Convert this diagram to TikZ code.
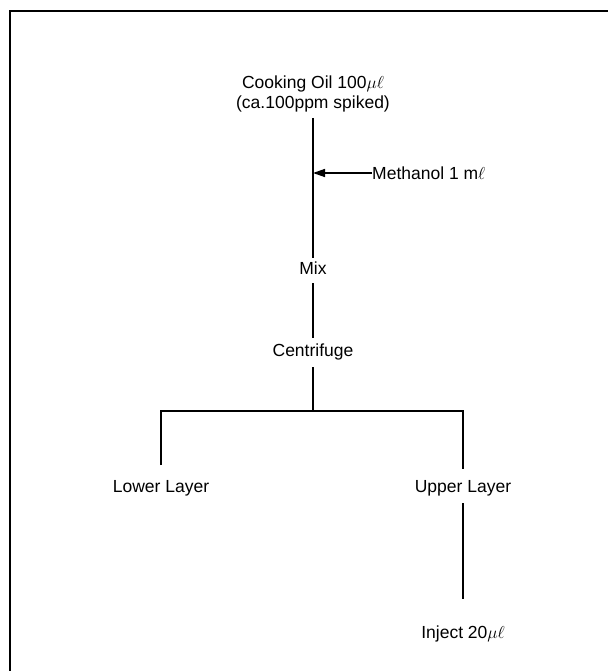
\documentclass[tikz,border=0pt]{standalone}
\usepackage{fontspec}
\setmainfont{Liberation Sans}
\usetikzlibrary{arrows.meta}
\begin{document}
\begin{tikzpicture}[x=1pt,y=-1pt,
  lbl/.style={font=\fontsize{17.5}{20}\selectfont, inner sep=0pt, align=center},
  ln/.style={line width=1.4pt},
  every node/.style={lbl}]
\useasboundingbox (0,0) rectangle (608,671);
\draw[line width=1.2pt] (10,671) -- (10,11) -- (608,11);
\node (oil) at (313,94) {Cooking Oil 100$\mu\ell$\\[0pt](ca.100ppm spiked)};
\node (mix) at (313,268) {Mix};
\node (cen) at (313,352) {Centrifuge};
\node (low) at (161,488) {Lower Layer};
\node (up) at (463,488) {Upper Layer};
\node (inj) at (463,634) {Inject 20$\mu\ell$};
\node[anchor=west] (meth) at (372,173) {Methanol\ 1 m$\ell$};
\coordinate (t1) at (313,118);
\coordinate (t2) at (313,258);
\coordinate (a) at (313,173);
\coordinate (m1) at (313,283);
\coordinate (m2) at (313,338);
\coordinate (c1) at (313,367);
\coordinate (j) at (313,411);
\coordinate (jl) at (161,411);
\coordinate (jr) at (463,411);
\coordinate (l1) at (161,465);
\coordinate (r1) at (463,469);
\coordinate (u1) at (463,503);
\coordinate (u2) at (463,599);
\draw[ln] (t1) -- (t2);
\draw[ln,-{Triangle[length=12pt,width=8pt]}] (meth.west) -- (a);
\draw[ln] (m1) -- (m2);
\draw[ln] (c1) -- (j);
\draw[ln] (l1) -- (jl) -- (jr) -- (r1);
\draw[ln] (u1) -- (u2);
\end{tikzpicture}
\end{document}
